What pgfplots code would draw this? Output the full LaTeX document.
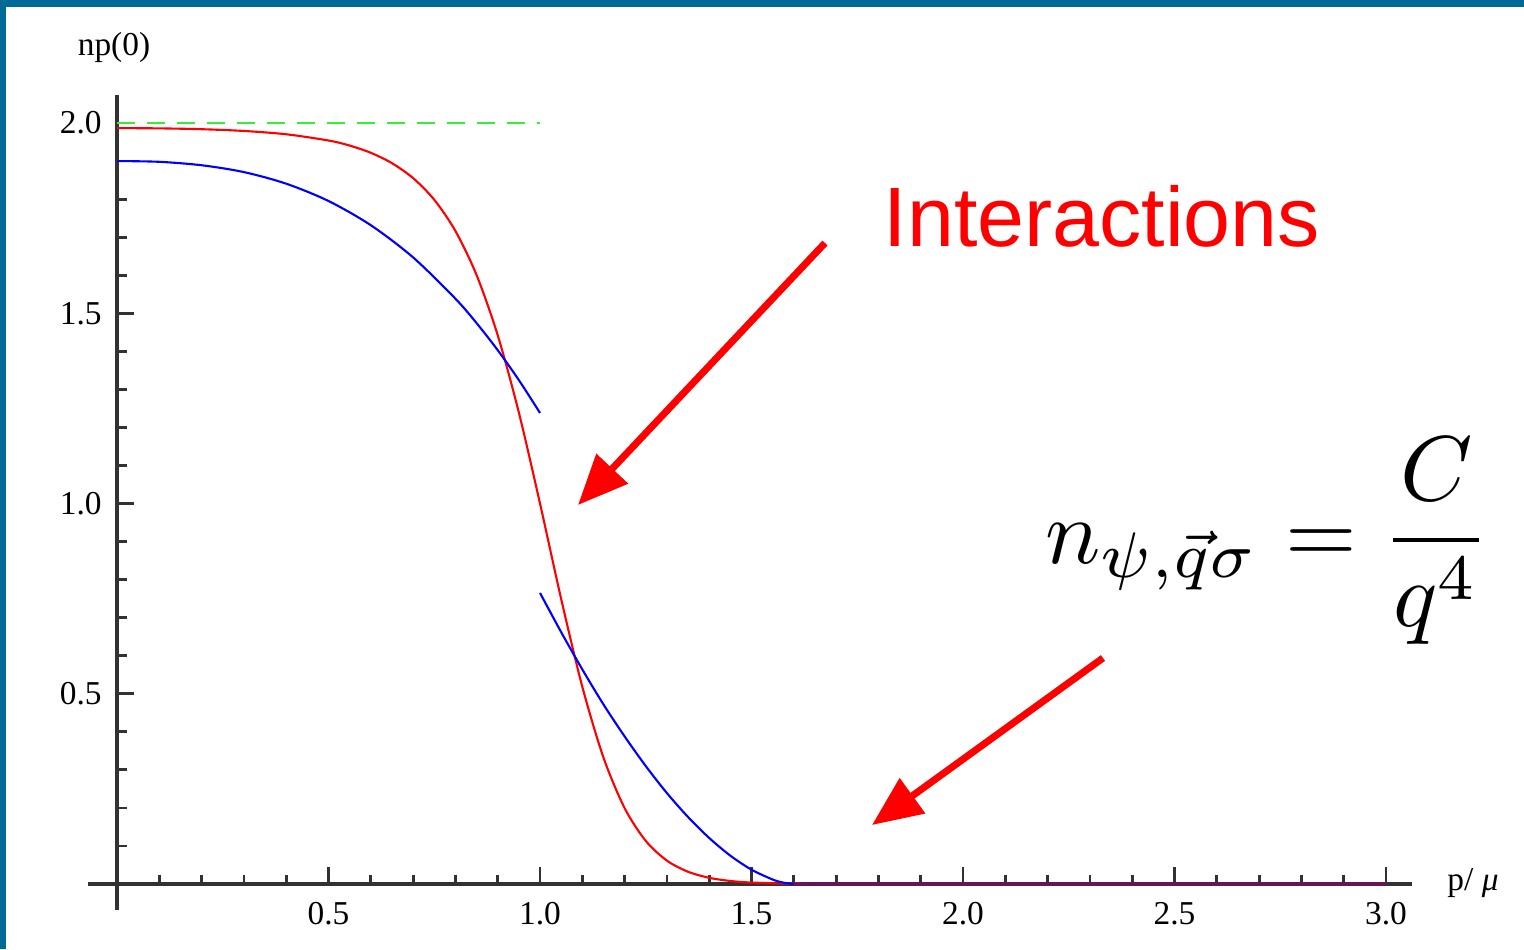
\documentclass[border=0pt]{standalone}
\usepackage{amsmath}
\usepackage{graphicx}
\usepackage[no-math]{fontspec}
\setmainfont{Liberation Serif}
\newfontfamily\arialfont{Liberation Sans}
\usepackage{pgfplots}
\pgfplotsset{compat=1.18}
\usetikzlibrary{arrows.meta}
\definecolor{framecol}{RGB}{0,106,150}
\definecolor{axcol}{RGB}{50,50,50}
\definecolor{dgreen}{RGB}{50,240,50}
\begin{document}
\begin{tikzpicture}
\useasboundingbox (0,0) rectangle (15.24,9.49);
\fill[framecol] (0,0) rectangle (15.24,9.49);
\fill[white] (0.06,0) rectangle (15.24,9.42);
\begin{axis}[
  at={(0.88cm,0.39cm)}, anchor=south west,
  scale only axis, width=13.24cm, height=8.15cm,
  xmin=-0.0686, xmax=3.0615, ymin=-0.0683, ymax=2.0736,
  axis lines=middle,
  axis line style={-, draw=axcol, line width=0.9pt},
  xtick={0.5,1.0,1.5,2.0,2.5,3.0},
  ytick={0.5,1.0,1.5,2.0},
  minor xtick={0.1,0.2,0.3,0.4,0.6,0.7,0.8,0.9,1.1,1.2,1.3,1.4,1.6,1.7,1.8,1.9,2.1,2.2,2.3,2.4,2.6,2.7,2.8,2.9},
  minor ytick={0.1,0.2,0.3,0.4,0.6,0.7,0.8,0.9,1.1,1.2,1.3,1.4,1.6,1.7,1.8,1.9},
  tick align=inside,
  major tick length=0.17cm, minor tick length=0.095cm,
  tick style={draw=axcol, line width=0.8pt},
  xticklabel style={font=\fontsize{9.5}{11}\selectfont, yshift=-0.06cm},
  yticklabel style={font=\fontsize{9.5}{11}\selectfont, xshift=-0.03cm},
  /pgf/number format/assume math mode=true,
  /pgf/number format/.cd, fixed, fixed zerofill, precision=1,
]
\addplot[draw=dgreen, line width=0.8pt, dash pattern=on 0.18cm off 0.12cm] coordinates {(0,2.0) (1.0,2.0)};
\addplot[draw=red, line width=0.6pt, smooth] coordinates {
(0,1.9866) (0.1,1.9859) (0.2,1.9837) (0.3,1.9791) (0.4,1.9704) (0.5,1.9540)
(0.55,1.9407) (0.6,1.9217) (0.65,1.8944) (0.7,1.8552) (0.75,1.7983) (0.8,1.7163)
(0.85,1.6004) (0.9,1.4423) (0.95,1.2391) (1.0,1.0) (1.05,0.7492) (1.1,0.5184)
(1.15,0.3325) (1.2,0.1995) (1.25,0.1133) (1.3,0.0615) (1.35,0.0322) (1.4,0.0163)
(1.45,0.0080) (1.5,0.00385) (1.6,0.0008) (1.7,0.00016) (1.8,0) (3.0,0)};
\addplot[draw=blue, line width=0.6pt, smooth] coordinates {
(0,1.900) (0.1,1.898) (0.2,1.889) (0.3,1.871) (0.4,1.8405) (0.5,1.795)
(0.6,1.7314) (0.7,1.6468) (0.8,1.5383) (0.85,1.4742) (0.9,1.403) (0.95,1.3244) (1.0,1.238)};
\addplot[draw=blue, line width=0.6pt, smooth] coordinates {
(1.0,0.765) (1.05,0.662) (1.1,0.564) (1.15,0.472) (1.2,0.388) (1.25,0.310)
(1.3,0.239) (1.35,0.176) (1.4,0.121) (1.45,0.0745) (1.5,0.0377) (1.55,0.0118)
(1.575,0.0037) (1.6,0)};
\addplot[draw=blue!50!red, line width=0.6pt] coordinates {(1.6,0) (3.0,0)};
\end{axis}
\node[font=\fontsize{9.5}{11}\selectfont] at (1.14,9.02) {np(0)};
\node[font=\fontsize{9.5}{11}\selectfont] at (14.73,0.66) {p/ \textit{μ}};
\draw[red, line width=2pt, -{Triangle[length=0.5cm,width=0.42cm]}] (8.25,7.06) -- (5.78,4.44);
\draw[red, line width=2pt, -{Triangle[length=0.5cm,width=0.42cm]}] (11.03,2.91) -- (8.72,1.24);
\node[anchor=base west, inner sep=0pt, text=red, font=\arialfont\fontsize{24}{28}\selectfont] at (8.83,7.02) {Interactions};
\node[anchor=base west, inner sep=0pt] at (10.45,3.86) {\scalebox{2.62}{$n_{\psi,\vec{q}\sigma}=\dfrac{C}{q^4}$}};
\end{tikzpicture}
\end{document}
